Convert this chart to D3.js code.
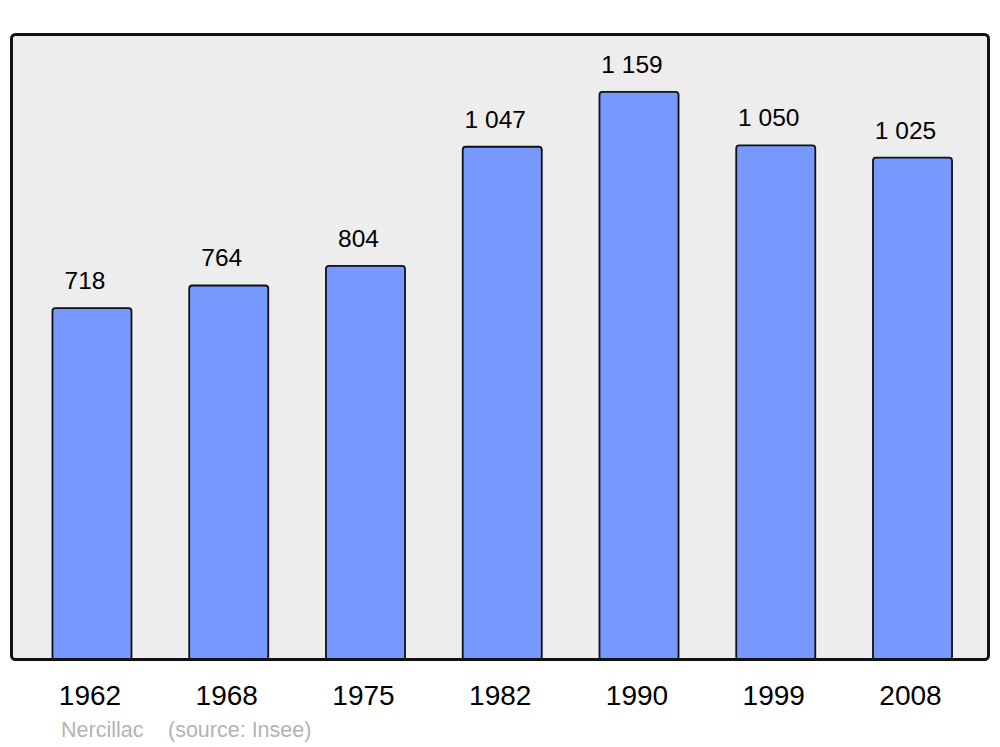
<!DOCTYPE html>
<html><head><meta charset="utf-8">
<script src="https://cdn.jsdelivr.net/npm/d3@7/dist/d3.min.js"></script>
<style>body{margin:0;background:#fff}</style>
</head><body>
<svg id="c" width="1000" height="747"></svg>
<script>
const years = ["1962","1968","1975","1982","1990","1999","2008"];
const population = [718, 764, 804, 1047, 1159, 1050, 1025];
const valueLabels = ["718","764","804","1 047","1 159","1 050","1 025"];
const commune = "Nercillac";
const source = "(source: Insee)";

const svg = d3.select("#c");
const font = "'Liberation Sans', Arial, sans-serif";

const x = d3.scaleBand().domain(years).range([23.6, 980.9]).paddingInner(0.422).paddingOuter(0.211);
const y = d3.scaleLinear().domain([0, 1277]).range([660, 34]);

svg.append("rect").attr("x", 11.5).attr("y", 34.5).attr("width", 977).attr("height", 625)
  .attr("rx", 4).attr("fill", "#ededed").attr("stroke", "none");

const g = svg.append("g");
g.selectAll("rect.bar").data(years).join("rect").attr("class", "bar")
  .attr("x", d => x(d))
  .attr("y", (d, i) => y(population[i]))
  .attr("width", x.bandwidth())
  .attr("height", (d, i) => y(0) - y(population[i]))
  .attr("rx", 3)
  .attr("fill", "#7799ff").attr("stroke", "#111").attr("stroke-width", 1.8);

svg.append("rect").attr("x", 11.5).attr("y", 34.5).attr("width", 977).attr("height", 625)
  .attr("rx", 4).attr("fill", "none").attr("stroke", "#111").attr("stroke-width", 3);

g.selectAll("text.val").data(years).join("text").attr("class", "val")
  .attr("x", d => x(d) + x.bandwidth() / 2 - 7)
  .attr("y", (d, i) => y(population[i]) - 19)
  .attr("text-anchor", "middle").attr("font-family", font).attr("font-size", 24.5)
  .attr("fill", "#000").text((d, i) => valueLabels[i]);

g.selectAll("text.yr").data(years).join("text").attr("class", "yr")
  .attr("x", d => x(d) + x.bandwidth() / 2 - 2)
  .attr("y", 705)
  .attr("text-anchor", "middle").attr("font-family", font).attr("font-size", 28)
  .attr("fill", "#000").text(d => d);

svg.append("text").attr("x", 61).attr("y", 737).attr("font-family", font).attr("font-size", 21.5)
  .attr("fill", "#b3b3b3").text(commune);
svg.append("text").attr("x", 168).attr("y", 737).attr("font-family", font).attr("font-size", 21.5)
  .attr("fill", "#b3b3b3").text(source);
</script>
</body></html>
